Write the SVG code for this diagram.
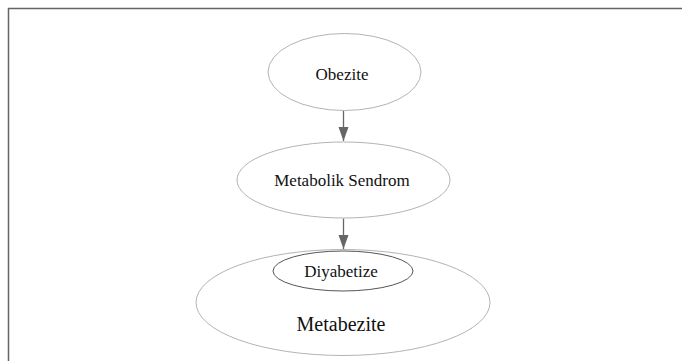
<svg xmlns="http://www.w3.org/2000/svg" width="682" height="361" viewBox="0 0 682 361">
<style>
.n{fill:#fff;stroke:#b3b3b3;stroke-width:1}
.t{font-family:"Liberation Serif","Times New Roman",serif;font-size:17px;fill:#111;text-anchor:middle}
.c{stroke:#666;stroke-width:1.3;fill:none}
</style>
<defs>
<marker id="ah" markerWidth="10" markerHeight="14" refX="5" refY="14" orient="auto-start-reverse" markerUnits="userSpaceOnUse" viewBox="0 0 10 14">
<path d="M0,0 L10,0 L5,14 Z" fill="#666"/>
</marker>
</defs>
<rect x="8.5" y="8.5" width="690" height="370" fill="none" stroke="#666" stroke-width="1.5"/>
<g id="edges">
<path class="c" d="M343.5,110.5 V141"/>
<path class="c" d="M343.5,218.5 V249"/>
<path d="M338.5,127 L348.5,127 L343.5,141 Z" fill="#666"/>
<path d="M338.5,235 L348.5,235 L343.5,249 Z" fill="#666"/>
</g>
<g id="obezite">
<ellipse class="n" cx="344.5" cy="72" rx="76.5" ry="38.5"/>
<text class="t" x="342" y="80">Obezite</text>
</g>
<g id="metabolik">
<ellipse class="n" cx="343.5" cy="180" rx="106.5" ry="38"/>
<text class="t" x="342" y="186">Metabolik Sendrom</text>
</g>
<g id="metabezite">
<ellipse class="n" cx="343" cy="302.5" rx="147" ry="53"/>
<text class="t" x="341" y="331" style="font-size:20px">Metabezite</text>
</g>
<g id="diyabetize">
<ellipse class="n" cx="343" cy="271" rx="70" ry="20" style="stroke:#555"/>
<text class="t" x="341" y="277">Diyabetize</text>
</g>
</svg>
